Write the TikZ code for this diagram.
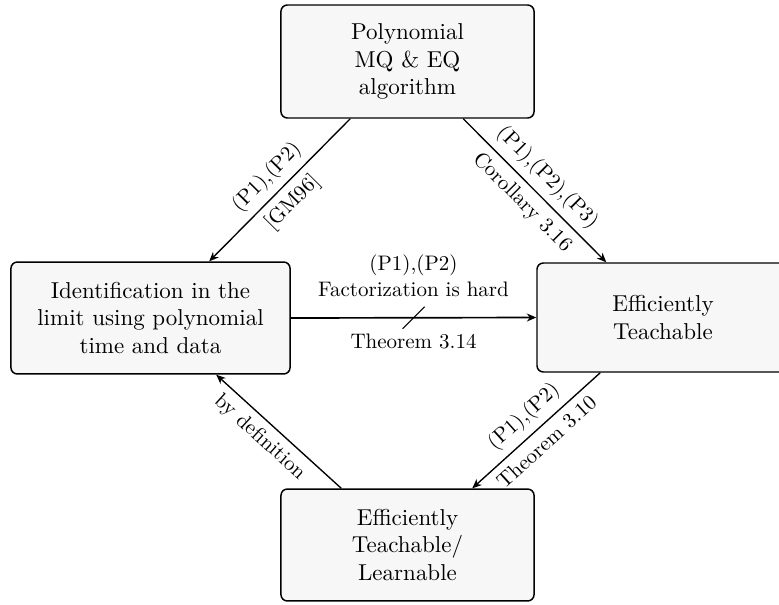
\documentclass[tikz,border=0pt]{standalone}
\usetikzlibrary{calc,arrows.meta}
\definecolor{boxfill}{HTML}{F7F7F7}
\tikzset{
  box/.style={draw, line width=0.7pt, rounded corners=3pt, fill=boxfill, inner sep=0pt,
    align=center, font=\fontsize{10.95}{13.1}\selectfont},
  conn/.style={line width=0.65pt, -{Stealth[length=4.5pt,width=3.8pt]}},
  lbl/.style={font=\fontsize{10}{12}\selectfont, sloped},
  midlbl/.style={font=\fontsize{10}{12}\selectfont, align=center},
}
\begin{document}
\begin{tikzpicture}[x=0.4762pt, y=-0.4762pt]
\useasboundingbox (0,0) rectangle (779,604);
\node[box, minimum width=120.5pt, minimum height=53.8pt] (top) at (407.5,61.5)
  {Polynomial\\MQ \& EQ\\algorithm};
\node[box, minimum width=132.9pt, minimum height=53.3pt] (left) at (150.5,318)
  {Identification in the\\limit using polynomial\\time and data};
\node[box, minimum width=120pt, minimum height=51.9pt] (right) at (663,317.5)
  {Efficiently\\Teachable};
\node[box, minimum width=120.5pt, minimum height=53.3pt] (bottom) at (407.5,545)
  {Efficiently\\Teachable/\\Learnable};

\draw[conn] ($(top.south west)+(70,0)$) -- node[lbl, above]{(P1),(P2)} node[lbl, below]{[GM96]}
  ($(left.north west)+(199,0)$);
\draw[conn] ($(top.south west)+(183,0)$) -- node[lbl, above]{(P1),(P2),(P3)} node[lbl, below]{Corollary 3.16}
  ($(right.north west)+(70,0)$);
\draw[conn, line width=0.8pt] (left.east) -- coordinate[midway] (m)
  node[midway, above=6.5pt, midlbl]{(P1),(P2)\\Factorization is hard}
  node[midway, below=4pt, midlbl]{Theorem 3.14}
  (right.west);
\draw[line width=0.5pt] ($(m)+(-11,11)$) -- ($(m)+(11,-11)$);
\draw[conn] ($(right.south west)+(64,0)$) -- node[lbl, above]{(P1),(P2)} node[lbl, below]{Theorem 3.10}
  ($(bottom.north west)+(192,0)$);
\draw[conn] ($(bottom.north west)+(61,0)$) -- node[lbl, below, pos=0.56]{by definition}
  ($(left.south west)+(206,0)$);
\end{tikzpicture}
\end{document}
